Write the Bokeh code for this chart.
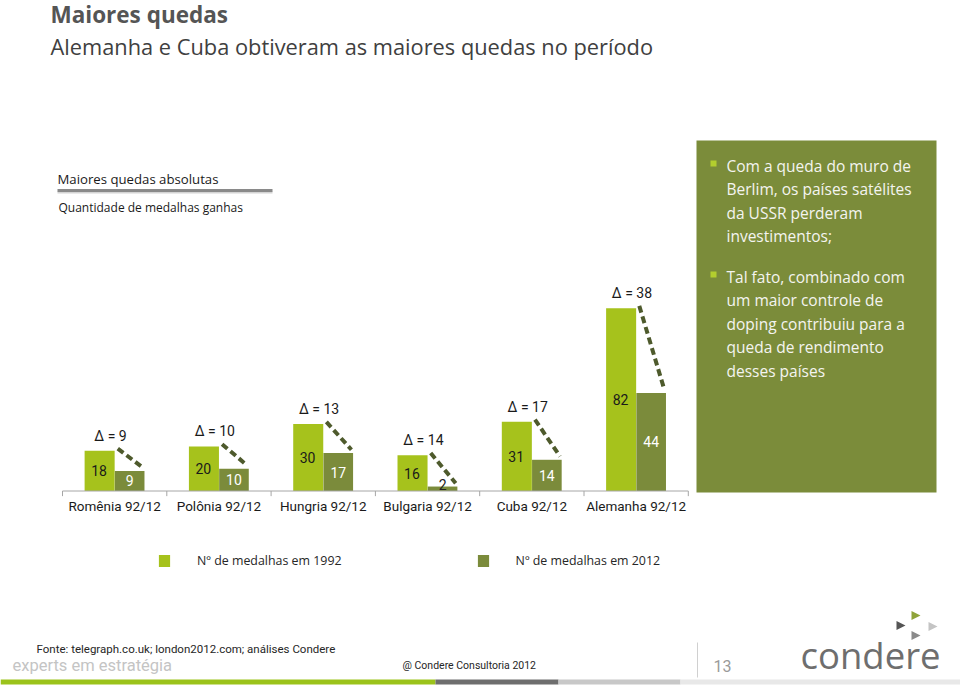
import numpy as np
from bokeh.plotting import figure
from bokeh.models import Range1d, Legend, LegendItem, ColumnDataSource
from bokeh.transform import dodge
from bokeh.core.properties import value
from bokeh.embed import file_html
from bokeh.resources import INLINE

# ---------------- data ----------------
categories = ["Romênia 92/12", "Polônia 92/12", "Hungria 92/12",
              "Bulgaria 92/12", "Cuba 92/12", "Alemanha 92/12"]
medals_1992 = [18, 20, 30, 16, 31, 82]
medals_2012 = [9, 10, 17, 2, 14, 44]
series_labels = ["Nº de medalhas em 1992", "Nº de medalhas em 2012"]

title_text = "Maiores quedas"
subtitle_text = "Alemanha e Cuba obtiveram as maiores quedas no período"
section_title = "Maiores quedas absolutas"
section_sub = "Quantidade de medalhas ganhas"
bullet_1 = ["Com a queda do muro de", "Berlim, os países satélites",
            "da USSR perderam", "investimentos;"]
bullet_2 = ["Tal fato, combinado com", "um maior controle de",
            "doping contribuiu para a", "queda de rendimento", "desses países"]
source_note = "Fonte: telegraph.co.uk; london2012.com; análises Condere"
tagline = "experts em estratégia"
copyright_note = "@ Condere Consultoria 2012"
page_number = "13"
logo_text = "condere"

# ---------------- styles ----------------
C92 = "#A6C21C"
C12 = "#7B8B3B"
PANEL = "#7B8C3A"
DASH = "#4E5A2C"
HEAD_FONT = "Open Sans"
CHART_FONT = "Roboto"

W, H = 960, 685
# chart geometry (pixels on the page)
cat_left_px, cat_step_px = 62.0, 104.3
base_px, px_per_medal = 490.5, 2.23

p = figure(width=W, height=H, x_range=Range1d(0, W), y_range=Range1d(H, 0),
           output_backend="svg", toolbar_location=None,
           x_axis_location=None, y_axis_location=None, min_border=0,
           outline_line_color=None, background_fill_color="white")
p.grid.visible = False

cx0 = -cat_left_px / cat_step_px
p.extra_x_ranges = {"cat": Range1d(cx0, cx0 + W / cat_step_px)}
my0 = -(H - base_px) / px_per_medal
p.extra_y_ranges = {"med": Range1d(my0, my0 + H / px_per_medal)}

n = len(categories)
v92 = np.array(medals_1992, dtype=float)
v12 = np.array(medals_2012, dtype=float)
pos = np.arange(n) + 0.5
src = ColumnDataSource(dict(
    cat=categories, pos=pos, v92=v92, v12=v12,
    delta=[f"\u0394 = {a - b}" for a, b in zip(medals_1992, medals_2012)],
    t92=[str(v) for v in medals_1992], t12=[str(v) for v in medals_2012],
    y92=v92 / 2, y12=np.maximum(v12 / 2, 2.9),
    c12=["#222222" if v < 5 else "#FFFFFF" for v in medals_2012],
    ydelta=v92 + 6.7,
    dx0=pos + 0.03, dy0=v92 + 1.0, dx1=pos + 0.27, dy1=v12 + 1.5,
))
kw = dict(x_range_name="cat", y_range_name="med")

# ---------------- header ----------------
p.text(x=[50], y=[14], text=[title_text], text_font=value(HEAD_FONT),
       text_font_size="22.5px", text_font_style="bold", text_color="#555555",
       text_baseline="middle")
p.text(x=[50], y=[46], text=[subtitle_text], text_font=value(HEAD_FONT),
       text_font_size="21.8px", text_color="#404040", text_baseline="middle")
p.text(x=[57], y=[178], text=[section_title], text_font=value(HEAD_FONT),
       text_font_size="13.2px", text_color="#1A1A1A", text_baseline="middle")
p.segment(x0=[57], y0=[192], x1=[272], y1=[192], line_color="#D4D4D4", line_width=2)
p.segment(x0=[57], y0=[190], x1=[272], y1=[190], line_color="#8A8A8A", line_width=3)
p.text(x=[58], y=[207], text=[section_sub], text_font=value(HEAD_FONT),
       text_font_size="12px", text_color="#1A1A1A", text_baseline="middle")

# ---------------- right panel ----------------
p.quad(left=[696], right=[936], top=[140], bottom=[492], fill_color=PANEL, line_color=None)
p.quad(left=[710, 710], right=[716, 716], top=[160, 271], bottom=[166, 277],
       fill_color="#B3CE2E", line_color=None)
b1_y = [165, 188.5, 212, 235.5]
b2_y = [276, 299.5, 323, 346.5, 370]
p.text(x=[726] * (len(bullet_1) + len(bullet_2)), y=b1_y + b2_y, text=bullet_1 + bullet_2,
       text_font=value(HEAD_FONT), text_font_size="15.5px", text_color="#F4F4F0",
       text_baseline="middle")

# ---------------- chart ----------------
r92 = p.vbar(x=dodge("pos", -0.144), top="v92", bottom=0, width=0.288, source=src,
             fill_color=C92, line_color=None, **kw)
r12 = p.vbar(x=dodge("pos", 0.144), top="v12", bottom=0, width=0.284, source=src,
             fill_color=C12, line_color=None, **kw)
# category axis
p.segment(x0=[0], y0=[0], x1=[n], y1=[0], line_color="#A6A6A6", line_width=1, **kw)
p.segment(x0=np.arange(n + 1), y0=[0] * (n + 1), x1=np.arange(n + 1),
          y1=[-2.3] * (n + 1), line_color="#A6A6A6", line_width=1, **kw)
p.text(x="pos", y=-6.6, text="cat", source=src, text_font=value(CHART_FONT),
       text_font_size="13.5px", text_color="#1A1A1A", text_align="center",
       text_baseline="middle", **kw)
# dashed change lines
p.segment(x0="dx0", y0="dy0", x1="dx1", y1="dy1", source=src, line_color=DASH,
          line_width=4, line_dash="7 4", **kw)
# value labels
p.text(x=dodge("pos", -0.15), y="y92", text="t92", source=src,
       text_font=value(CHART_FONT), text_font_size="14px", text_color="#1A1A1A",
       text_align="center", text_baseline="middle", **kw)
p.text(x=dodge("pos", 0.144), y="y12", text="t12", source=src,
       text_font=value(CHART_FONT), text_font_size="14px", text_color="c12",
       text_align="center", text_baseline="middle", **kw)
p.text(x=dodge("pos", -0.04), y="ydelta", text="delta", source=src,
       text_font=value(CHART_FONT), text_font_size="14px", text_color="#1A1A1A",
       text_align="center", text_baseline="middle", **kw)

# ---------------- legend ----------------
legend = Legend(items=[LegendItem(label=series_labels[0], renderers=[r92]),
                       LegendItem(label=series_labels[1], renderers=[r12])],
                orientation="horizontal", location=(157, 116), spacing=134,
                label_standoff=26, glyph_width=14, glyph_height=15, padding=0,
                margin=0, border_line_color=None, background_fill_alpha=0,
                label_text_font=HEAD_FONT, label_text_font_size="12.4px",
                label_text_color="#262626", label_height=15)
p.add_layout(legend)

# ---------------- footer ----------------
p.text(x=[36], y=[648], text=[source_note], text_font=value(CHART_FONT),
       text_font_size="11.5px", text_color="#262626", text_baseline="middle")
p.text(x=[12], y=[665], text=[tagline], text_font=value(CHART_FONT),
       text_font_size="16.5px", text_color="#C4C4C4", text_baseline="middle")
p.text(x=[402], y=[665], text=[copyright_note], text_font=value(CHART_FONT),
       text_font_size="10.5px", text_color="#262626", text_baseline="middle")
p.text(x=[713], y=[665], text=[page_number], text_font=value(CHART_FONT),
       text_font_size="16px", text_color="#9A9A9A", text_baseline="middle")
p.segment(x0=[697], y0=[642], x1=[697], y1=[677], line_color="#D0D0D0", line_width=1)
p.text(x=[800], y=[654], text=[logo_text], text_font=value(HEAD_FONT),
       text_font_size="36.5px", text_color="#6E6E6E", text_baseline="middle")
tri_cx = [915, 900, 932, 915]
tri_cy = [615, 625, 626, 635]
tri_col = ["#8FA33A", "#555555", "#C4C4C4", "#8A8A8A"]
p.patches(xs=[[x - 4, x - 4, x + 5] for x in tri_cx],
          ys=[[y - 4.5, y + 4.5, y] for y in tri_cy],
          fill_color=tri_col, line_color=None)
p.quad(left=[0, 435, 558, 680], right=[435, 558, 680, 960], top=[679] * 4, bottom=[684] * 4,
       fill_color=["#9BC31B", "#6E6E6E", "#C8C8C8", "#E8E8E8"], line_color=None)

open("out.html", "w").write(file_html(p, INLINE))
